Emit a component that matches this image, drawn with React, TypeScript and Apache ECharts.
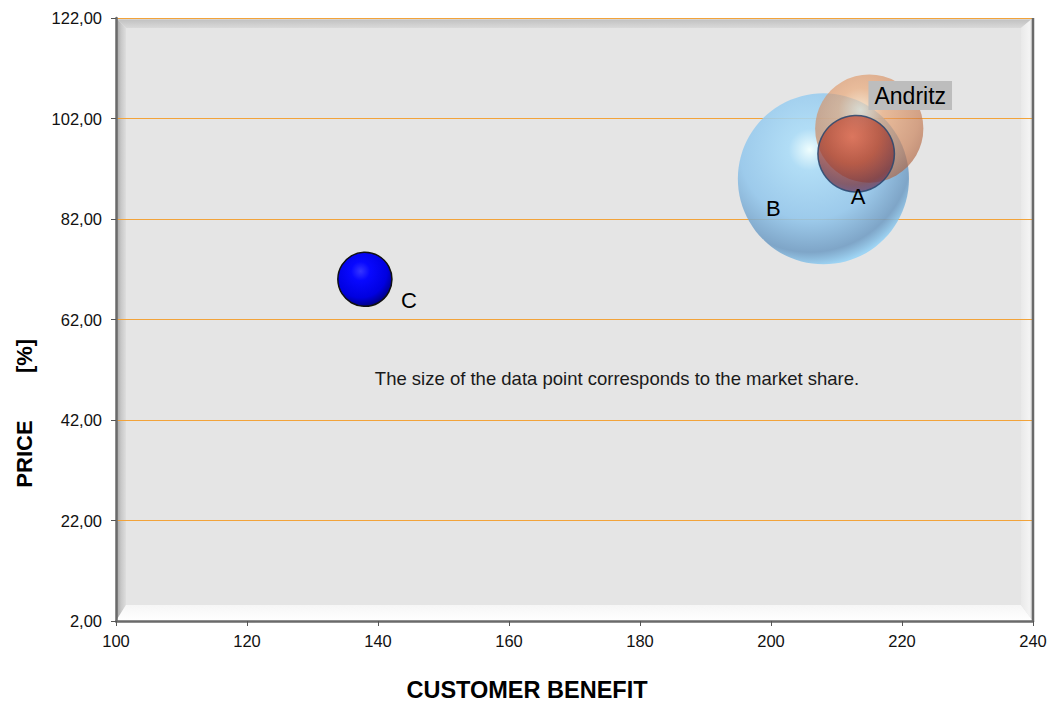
import React, { useEffect, useRef } from "react";
import * as echarts from "echarts";

const companies = ["B", "Andritz", "A", "C"];
const customerBenefit = [208, 215, 213, 138];
const priceValues = [90, 100, 95, 70];
const marketShare = [50, 20, 10, 5];

const xAxisMin = 100;
const xAxisMax = 240;
const yAxisMin = 2;
const yAxisMax = 122;
const tickStep = 20;

const FONT = "'Liberation Sans', Arial, sans-serif";

function sphere(stops: [number, string][], x = 0.42, y = 0.33, r = 0.68) {
  return new echarts.graphic.RadialGradient(
    x,
    y,
    r,
    stops.map(([offset, color]) => ({ offset, color }))
  );
}

const bubbleStyles: Record<string, any> = {
  B: {
    itemStyle: {
      color: sphere([
        [0, "rgba(240,255,255,0.95)"],
        [0.18, "rgba(170,220,248,0.88)"],
        [0.6, "rgba(145,198,236,0.86)"],
        [0.88, "rgba(110,155,195,0.86)"],
        [1, "rgba(150,210,245,0.9)"],
      ]),
    },
    label: { offset: [-50, 30] },
  },
  Andritz: {
    itemStyle: {
      color: sphere([
        [0, "rgba(255,230,195,0.6)"],
        [0.3, "rgba(235,160,105,0.6)"],
        [0.8, "rgba(200,120,75,0.62)"],
        [1, "rgba(175,100,65,0.66)"],
      ]),
    },
    label: {
      offset: [41, -33],
      backgroundColor: "#bdbdbd",
      padding: [3, 6, 3, 6],
      fontSize: 23,
    },
  },
  A: {
    itemStyle: {
      color: sphere(
        [
          [0, "rgba(225,95,70,0.72)"],
          [0.45, "rgba(180,65,45,0.72)"],
          [0.8, "rgba(120,50,60,0.74)"],
          [1, "rgba(90,70,130,0.8)"],
        ],
        0.45,
        0.28,
        0.78
      ),
      borderColor: "rgba(40,70,110,0.85)",
      borderWidth: 1.5,
    },
    label: { offset: [2, 43] },
  },
  C: {
    itemStyle: {
      color: sphere(
        [
          [0, "#3535ff"],
          [0.25, "#0808ff"],
          [0.7, "#0000e0"],
          [1, "#000070"],
        ],
        0.42,
        0.35,
        0.7
      ),
      borderColor: "#111",
      borderWidth: 1.5,
    },
    label: { offset: [44, 21] },
  },
};

const L = 116;
const T = 18;
const R = 1033;
const B = 621;

export default function App() {
  const ref = useRef<HTMLDivElement>(null);

  useEffect(() => {
    if (!ref.current) return;
    document.body.style.margin = "0";
    const chart = echarts.init(ref.current, null, {
      renderer: "svg",
      width: 1051,
      height: 705,
    });

    const data = companies.map((name, i) => {
      const st = bubbleStyles[name];
      return {
        name,
        value: [customerBenefit[i], priceValues[i], marketShare[i]],
        itemStyle: { opacity: 1, ...st.itemStyle },
        label: {
          show: true,
          position: "inside",
          formatter: "{b}",
          color: "#000",
          fontSize: 22,
          fontFamily: FONT,
          ...st.label,
        },
      };
    });

    const bw = { t: 10, l: 10, b: 16, r: 12 };
    const bevel = [
      {
        type: "rect",
        z: -10,
        shape: { x: L, y: T, width: R - L, height: B - T },
        style: { fill: "#e5e5e5" },
        silent: true,
      },
      {
        type: "polygon",
        z: -9,
        shape: {
          points: [
            [L, T],
            [R, T],
            [R - bw.r, T + bw.t],
            [L + bw.l, T + bw.t],
          ],
        },
        style: {
          fill: new echarts.graphic.LinearGradient(0, 0, 0, 1, [
            { offset: 0, color: "#e8e8e8" },
            { offset: 0.25, color: "#c4c4c4" },
            { offset: 1, color: "#d9d9d9" },
          ]),
        },
        silent: true,
      },
      {
        type: "polygon",
        z: -9,
        shape: {
          points: [
            [L, T],
            [L + bw.l, T + bw.t],
            [L + bw.l, B - bw.b],
            [L, B],
          ],
        },
        style: {
          fill: new echarts.graphic.LinearGradient(0, 0, 1, 0, [
            { offset: 0, color: "#9e9e9e" },
            { offset: 0.5, color: "#c8c8c8" },
            { offset: 1, color: "#dedede" },
          ]),
        },
        silent: true,
      },
      {
        type: "polygon",
        z: -9,
        shape: {
          points: [
            [L + bw.l, B - bw.b],
            [R - bw.r, B - bw.b],
            [R, B],
            [L, B],
          ],
        },
        style: {
          fill: new echarts.graphic.LinearGradient(0, 0, 0, 1, [
            { offset: 0, color: "#f6f6f6" },
            { offset: 1, color: "#ffffff" },
          ]),
        },
        silent: true,
      },
      {
        type: "polygon",
        z: -9,
        shape: {
          points: [
            [R - bw.r, T + bw.t],
            [R, T],
            [R, B],
            [R - bw.r, B - bw.b],
          ],
        },
        style: {
          fill: new echarts.graphic.LinearGradient(0, 0, 1, 0, [
            { offset: 0, color: "#e9e9e9" },
            { offset: 0.7, color: "#f4f4f4" },
            { offset: 1, color: "#d0d0d0" },
          ]),
        },
        silent: true,
      },
      {
        type: "line",
        z: 5,
        shape: { x1: R, y1: T, x2: R, y2: B },
        style: { stroke: "#6a6a6a", lineWidth: 2.5 },
        silent: true,
      },
      {
        type: "text",
        z: 6,
        x: 617,
        y: 378,
        style: {
          text: "The size of the data point corresponds to the market share.",
          font: `18.5px ${FONT}`,
          fill: "#1a1a1a",
          align: "center",
          verticalAlign: "middle",
        },
        silent: true,
      },
      {
        type: "text",
        x: 527,
        y: 690,
        style: {
          text: "CUSTOMER BENEFIT",
          font: `bold 23.5px ${FONT}`,
          fill: "#000",
          align: "center",
          verticalAlign: "middle",
        },
        silent: true,
      },
      {
        type: "text",
        x: 24,
        y: 454,
        rotation: Math.PI / 2,
        style: {
          text: "PRICE",
          font: `bold 22px ${FONT}`,
          fill: "#000",
          align: "center",
          verticalAlign: "middle",
        },
        silent: true,
      },
      {
        type: "text",
        x: 24,
        y: 356,
        rotation: Math.PI / 2,
        style: {
          text: "[%]",
          font: `bold 22px ${FONT}`,
          fill: "#000",
          align: "center",
          verticalAlign: "middle",
        },
        silent: true,
      },
    ];

    chart.setOption({
      animation: false,
      backgroundColor: "#ffffff",
      grid: {
        left: L,
        top: T,
        width: R - L,
        height: B - T,
        containLabel: false,
      },
      xAxis: {
        type: "value",
        min: xAxisMin,
        max: xAxisMax,
        interval: tickStep,
        axisLine: { show: true, lineStyle: { color: "#6a6a6a", width: 2.5 } },
        axisTick: { show: true, length: 5, lineStyle: { color: "#555" } },
        axisLabel: {
          fontFamily: FONT,
          fontSize: 16.5,
          color: "#111",
          margin: 11,
        },
        splitLine: { show: false },
      },
      yAxis: {
        type: "value",
        min: yAxisMin,
        max: yAxisMax,
        interval: tickStep,
        axisLine: { show: true, lineStyle: { color: "#6a6a6a", width: 2.5 } },
        axisTick: { show: true, length: 5, lineStyle: { color: "#555" } },
        axisLabel: {
          fontFamily: FONT,
          fontSize: 16.5,
          color: "#111",
          margin: 14,
          formatter: (v: number) => v.toFixed(2).replace(".", ","),
        },
        splitLine: {
          show: true,
          lineStyle: { color: "#f2a33a", width: 1.2 },
        },
      },
      graphic: bevel,
      series: [
        {
          type: "scatter",
          z: 3,
          symbol: "circle",
          symbolSize: (val: number[]) => 24.2 * Math.sqrt(val[2]),
          data,
          emphasis: { disabled: true },
        },
      ],
    });

    return () => chart.dispose();
  }, []);

  return <div ref={ref} style={{ width: 1051, height: 705 }} />;
}
